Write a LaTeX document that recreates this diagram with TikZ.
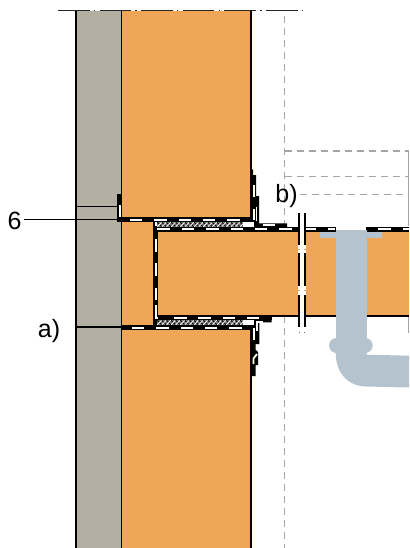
\documentclass[tikz,border=0pt]{standalone}
\usepackage{fontspec}
\setmainfont{Liberation Sans}
\definecolor{brick}{RGB}{239,166,86}
\definecolor{stone}{RGB}{179,175,163}
\definecolor{pipe}{RGB}{180,195,206}
\definecolor{guide}{RGB}{165,165,165}
\tikzset{
 x=1pt,y=-1pt,
 thinblk/.style={draw=black,line width=1.1pt},
 wdash/.style={draw=white,line width=2pt,dash pattern=on 12.5pt off 11.9pt},
 guideline/.style={draw=guide,line width=1.2pt,dash pattern=on 7pt off 5pt},
 lab/.style={font=\fontsize{25}{28}\selectfont,inner sep=0pt,anchor=center}
}
\newcommand{\meshstrip}[2]{%
 \fill[black!55] (157.3,#1) rectangle (242.7,#2);
 \foreach \i in {0,...,18}{
  \draw[black,line width=.75pt] ({157.3+4.6*\i},#1) -- ({157.3+4.6*\i+4.4},#2);
  \draw[white,line width=.75pt] ({157.3+4.6*\i+4.4},#1) -- ({157.3+4.6*\i},#2);
 }
 \fill[white] (242.7,#1) rectangle (254,#2);
}
\begin{document}
\begin{tikzpicture}
\useasboundingbox (0,0) rectangle (409,548);
% guides
\draw[guideline] (284.5,16) -- (284.5,548);
\draw[guideline] (285,151) -- (409,151);
\draw[guideline] (285,176.7) -- (409,176.7);
\draw[guideline] (300,194.3) -- (409,194.3);
\draw[draw=guide,line width=1pt] (408.5,150) -- (408.5,226);
\draw[draw=guide,line width=1pt] (408.5,316) -- (408.5,333);
% fills
\fill[stone] (76,11) rectangle (121.5,548);
\fill[brick] (121.5,11) rectangle (251,218);
\fill[brick] (121.5,218) rectangle (155,326);
\fill[brick] (121.5,326) rectangle (251,548);
\fill[brick] (158,230) rectangle (409,316);
% wall outlines
\draw[thinblk] (76,11) -- (76,548);
\draw[thinblk] (121.5,11) -- (121.5,548);
\draw[thinblk] (251,11) -- (251,217);
\draw[thinblk] (251,328) -- (251,548);
\draw[thinblk] (158,316) -- (409,316);
\draw[thinblk] (76,206.4) -- (118,206.4);
\draw[thinblk] (76,327) -- (121,327);
% top line
\draw[draw=black!85,line width=1.2pt,dash pattern=on 31.5pt off 4.2pt on 1.5pt off 4.4pt] (58,10.6) -- (302.5,10.6);
% labels and leader
\coordinate (sixstart) at (24,219.3);
\coordinate (sixend) at (118,219.3);
\node[lab] (six) at (14.5,221) {6};
\node[lab] (a) at (49,331) {a)};
\node[lab] (b) at (286.5,196.5) {b)};
\draw[thinblk] (sixstart) -- (sixend);
% small block left
\fill[black] (117.3,194) rectangle (121.7,218);
\fill[white] (118.7,205) rectangle (120.7,216.7);
% upper seal
\fill[black] (117,216.8) rectangle (251,222.2);
\draw[wdash,dash phase=0pt] (129.7,219.5) -- (250,219.5);
% vertical seal
\fill[black] (153.3,221) rectangle (158.3,325);
\draw[wdash] (155.8,239) -- (155.8,305);
\fill[white] (154.9,221.8) rectangle (156.9,226);
\draw[white,line width=2pt] (155.8,305) -- (155.8,317.7) -- (162,317.7);
% second seal layer
\fill[black] (153.3,226.6) -- (335.7,226.6) -- (335.7,231.5) -- (153.3,231.5) -- cycle;
\draw[wdash] (157.3,229.1) -- (335,229.1);
\fill[black] (366,226.6) rectangle (409,231.5);
\draw[wdash] (378.3,229.1) -- (409,229.1);
% upper right flashing
\fill[black] (251,169.3) -- (253,169.3) -- (253,175) -- (256,175) -- (256,196) -- (259,196) -- (259,223.3) -- (287,223.3) -- (287,227) -- (251,227) -- cycle;
\fill[white] (252.5,185) rectangle (254.5,197);
\fill[white] (252.5,209) rectangle (254.5,220);
\fill[white] (255.7,207) rectangle (257.2,220.5);
\fill[white] (263,224.3) rectangle (275,226);
% lower seals
\fill[black] (121,325) rectangle (251.5,329.7);
\draw[wdash] (131.7,327.6) -- (251,327.6);
\fill[black] (158,315) rectangle (271.7,320);
\fill[black] (153.3,320) -- (271.7,320) -- (271.7,322.3) -- (259.3,322.3) -- (259.3,325) -- (153.3,325) -- cycle;
\draw[wdash] (174,317.8) -- (259.3,317.8);
% lower right flashing
\fill[black] (251,325) -- (259.3,325) -- (259.3,344) -- (255.7,344) -- (255.7,350) -- (258,352) -- (258,365) -- (255.7,365) -- (255.7,376) -- (251,376) -- cycle;
\fill[white] (252.5,328) rectangle (254.5,340);
\draw[white,line width=1.8pt] (253.5,364) -- (253.5,358.5) -- (257,354);
\fill[white] (256,320.7) rectangle (263,322.7);
\fill[white] (256,320.7) rectangle (258,331);
% mesh strips
\meshstrip{222.3}{226.7}
\meshstrip{320.2}{324.8}
% pipe
\fill[pipe] (320,231.5) rectangle (381.7,237.7);
\fill[pipe] (335.7,230) rectangle (366.7,350);
\draw[pipe,line width=15pt,line cap=round] (336.5,345.5) -- (365.2,345.5);
\fill[pipe] (335.7,350) -- (335.7,353) .. controls (335.7,372) and (347,386) .. (366,386.5) -- (409,387.5) -- (409,355.7) -- (366.7,354.7) -- (366.7,350) -- cycle;
% sleeve
\fill[white] (298.3,213.3) rectangle (305.7,327);
\draw[black,line width=2pt] (299.3,213.3) -- (299.3,327);
\draw[black,line width=2pt] (304.7,213.3) -- (304.7,327);
\fill[white] (298.3,245) rectangle (305.7,253);
\fill[white] (298.3,286) rectangle (305.7,295);
\fill[brick] (298.3,248.5) rectangle (300,249.5);
\fill[brick] (304,248.5) rectangle (305.7,249.5);
\fill[brick] (298.3,290) rectangle (300,291);
\fill[brick] (304,290) rectangle (305.7,291);
\fill[black!60] (298.7,331.6) rectangle (300,332.4);
\fill[black!60] (304,331.6) rectangle (305.3,332.4);
\end{tikzpicture}
\end{document}
